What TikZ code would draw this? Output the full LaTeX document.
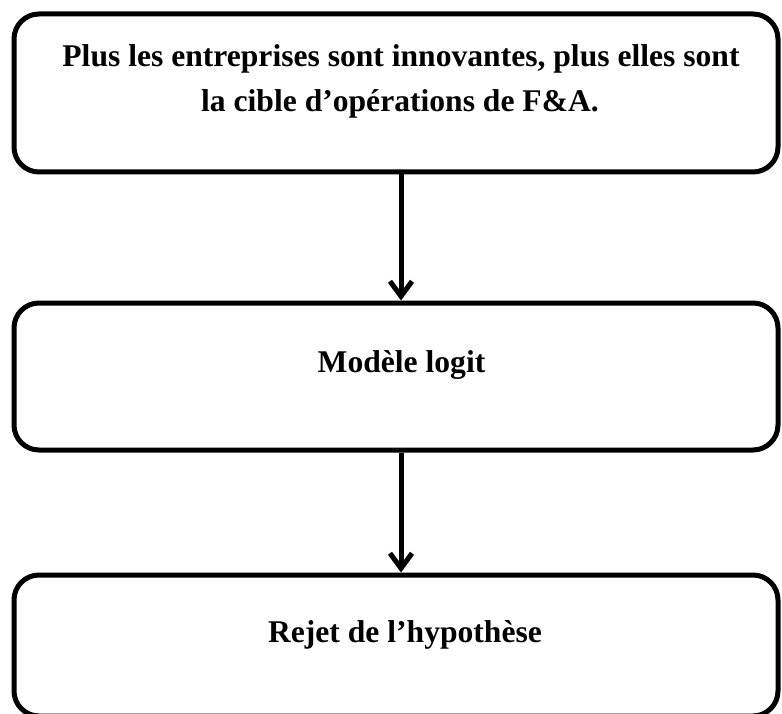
\documentclass[tikz,border=0pt]{standalone}
\usepackage{fontspec}
\setmainfont{Liberation Serif}
\usetikzlibrary{arrows.meta}
\begin{document}
\begin{tikzpicture}[x=1pt,y=-1pt,
  boxnode/.style={draw=black, line width=5pt, rounded corners=25pt, inner sep=0pt, minimum width=764pt, fill=white},
  txt/.style={anchor=base, inner sep=0pt, font=\fontsize{31.6}{38}\selectfont\bfseries},
  arr/.style={line width=5pt, -{Straight Barb[length=15pt,width=22pt,line width=5pt]}}]
\useasboundingbox (0,0) rectangle (782,714);
\begin{scope}
\clip (0,0) rectangle (782,714);
\node[boxnode, minimum height=158pt] (top) at (396,93) {};
\node[boxnode, minimum height=147pt] (mid) at (396,376.5) {};
\node[boxnode, minimum height=141pt] (bot) at (396,645.5) {};
\end{scope}
\node[txt] (t1) at (401,67) {Plus les entreprises sont innovantes, plus elles sont};
\node[txt] (t2) at (400,112) {la cible d’opérations de F\&A.};
\node[txt] (t3) at (401.5,372) {Modèle logit};
\node[txt] (t4) at (405,642) {Rejet de l’hypothèse};
\draw[arr] ([xshift=5pt]top.south) -- ([xshift=5pt]mid.north);
\draw[arr] ([xshift=5pt]mid.south) -- ([xshift=5pt]bot.north);
\end{tikzpicture}
\end{document}
